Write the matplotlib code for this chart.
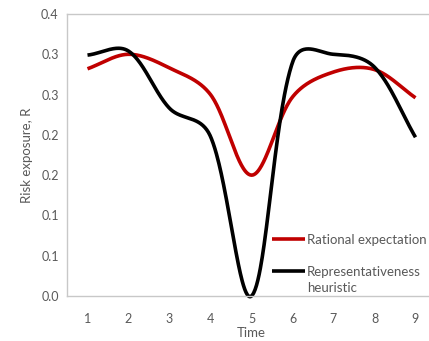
import numpy as np
import matplotlib
matplotlib.use("Agg")
import matplotlib.pyplot as plt
from matplotlib.ticker import FuncFormatter
from decimal import Decimal, ROUND_HALF_UP

time = [1, 2, 3, 4, 5, 6, 7, 8, 9]
rational = [0.282, 0.300, 0.283, 0.250, 0.150, 0.247, 0.278, 0.281, 0.246]
representative = [0.299, 0.304, 0.233, 0.198, 0.000, 0.290, 0.300, 0.284, 0.197]
yticks = [0, 0.05, 0.1, 0.15, 0.2, 0.25, 0.3, 0.35]
legend_labels = ['Rational expectation', 'Representativeness']
legend_extra = 'heuristic'

SX, SY = 41.0, 806.0  # pixel scale used only for chord-length weighting

def smooth(x, y, n=60, k=1/3, alpha=0.5):
    P = np.column_stack([np.asarray(x, float) * SX, np.asarray(y, float) * SY])
    m = len(P)
    d = np.linalg.norm(np.diff(P, axis=0), axis=1) ** alpha
    xs, ys = [], []
    for i in range(m - 1):
        p0, p3 = P[i], P[i + 1]
        if i == 0:
            c1 = p0 + (P[1] - P[0]) * k
        else:
            T = P[i + 1] - P[i - 1]
            c1 = p0 + T * d[i] / (d[i - 1] + d[i]) * k
        if i + 1 == m - 1:
            c2 = p3 - (P[-1] - P[-2]) * k
        else:
            T = P[i + 2] - P[i]
            c2 = p3 - T * d[i] / (d[i] + d[i + 1]) * k
        t = np.linspace(0, 1, n)[:, None]
        pts = (1 - t)**3 * p0 + 3 * (1 - t)**2 * t * c1 + 3 * (1 - t) * t**2 * c2 + t**3 * p3
        xs.append(pts[:, 0] / SX); ys.append(pts[:, 1] / SY)
    return np.concatenate(xs), np.concatenate(ys)

def fmt(v, p):
    dd = Decimal(str(round(float(v), 4)))
    return str(dd.quantize(Decimal('0.1'), rounding=ROUND_HALF_UP))

plt.rcParams['font.family'] = ['Lato', 'DejaVu Sans']
gray = '#595959'
fig = plt.figure(figsize=(4.29, 3.41), dpi=100)
ax = fig.add_axes([67/429, 45/341, 369/429, 282/341])

xr, yr = smooth(time, rational)
xb, yb = smooth(time, representative)
ax.plot(xr, yr, color='#c00000', lw=2.6, solid_capstyle='butt', label=legend_labels[0], clip_on=False)
ax.plot(xb, yb, color='#000000', lw=2.6, solid_capstyle='butt', label=legend_labels[1], clip_on=False)

ax.set_xlim(0.5, 9.5)
ax.set_ylim(0, 0.35)
ax.set_xticks(time)
ax.set_yticks(yticks)
ax.yaxis.set_major_formatter(FuncFormatter(fmt))
ax.tick_params(length=0, labelsize=9, colors=gray, pad=12)
ax.tick_params(axis='y', pad=6)
for s in ['left', 'bottom', 'top', 'right']:
    ax.spines[s].set_color('#c8c8c8')
    ax.spines[s].set_linewidth(1.0)
ax.set_xlabel('Time', fontsize=9.5, color=gray, labelpad=2)
ax.set_ylabel('Risk exposure, R', fontsize=9.5, color=gray, labelpad=6)

leg = ax.legend(loc='center left', bbox_to_anchor=(0.556, 0.142), frameon=False,
                fontsize=9.5, handlelength=2.5, handletextpad=0.15, labelspacing=1.5,
                borderpad=0, borderaxespad=0, labelcolor=gray)
fig.canvas.draw()
bb = leg.get_texts()[1].get_window_extent(fig.canvas.get_renderer())
x0, y0 = ax.transAxes.inverted().transform((bb.x0, bb.y0))
ax.text(x0, y0 - 4 / 282, legend_extra, transform=ax.transAxes, fontsize=9.5, color=gray,
        ha='left', va='top')
fig.savefig('out.png', dpi=100)
